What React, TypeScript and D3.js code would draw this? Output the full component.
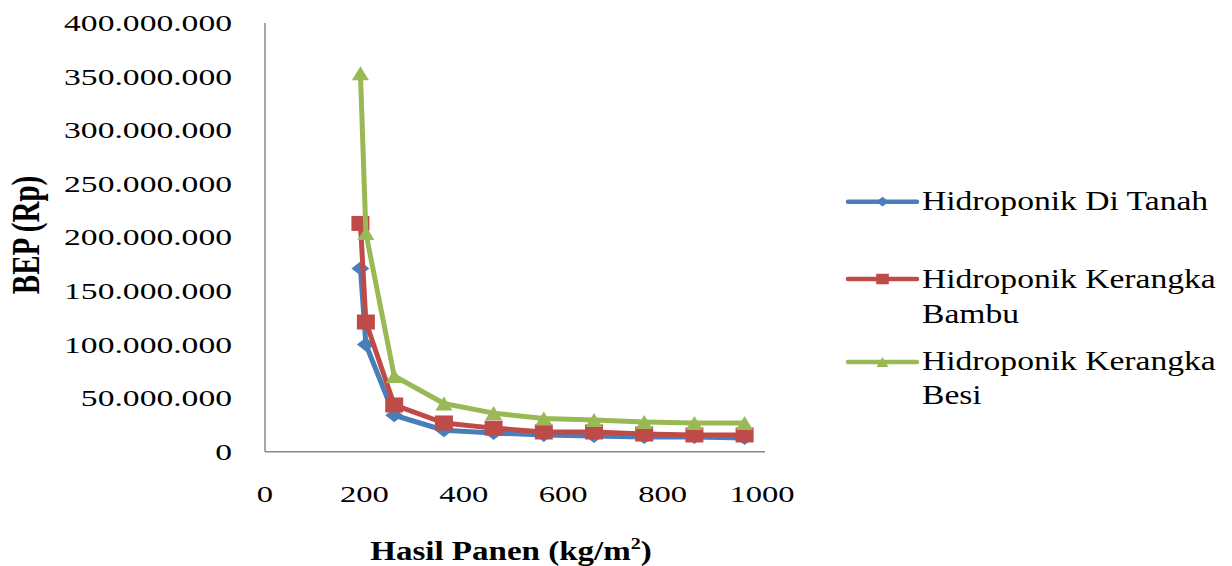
import React from "react";
import * as d3 from "d3";

const xValues = [192, 203, 260, 360, 460, 561, 662, 763, 864, 965];
const seriesNames = ["Hidroponik Di Tanah", "Hidroponik Kerangka Bambu", "Hidroponik Kerangka Besi"];
const tanah = [171e6, 100e6, 34e6, 20e6, 17.4e6, 15.6e6, 14.6e6, 13.7e6, 13.7e6, 12.8e6];
const bambu = [213e6, 121e6, 43.6e6, 26.8e6, 22e6, 18.4e6, 18.4e6, 16.5e6, 15.6e6, 15.6e6];
const besi = [353e6, 204e6, 70.6e6, 45e6, 36e6, 31e6, 29.6e6, 27.7e6, 26.8e6, 26.8e6];
const xTicks = [0, 200, 400, 600, 800, 1000];
const yTicks = [0, 50e6, 100e6, 150e6, 200e6, 250e6, 300e6, 350e6, 400e6];
const colors = ["#4A7EBB", "#BE4B48", "#98B954"];
const markers = ["diamond", "square", "triangle"];

const x = d3.scaleLinear().domain([0, 1000]).range([265, 762]);
const y = d3.scaleLinear().domain([0, 400e6]).range([451.7, 23]);

const fmt = (v: number) => d3.format(",")(v).replace(/,/g, ".");

function Marker({ kind, cx, cy, color, s = 1 }: any) {
  if (kind === "diamond") {
    const w = 9 * s, h = 7 * s;
    return <path d={`M${cx - w},${cy}L${cx},${cy - h}L${cx + w},${cy}L${cx},${cy + h}Z`} fill={color} />;
  }
  if (kind === "square") {
    const w = 9 * s, h = 7.5 * s;
    return <rect x={cx - w} y={cy - h} width={2 * w} height={2 * h} fill={color} />;
  }
  const w = 8.5 * s, h = 7 * s;
  return <path d={`M${cx},${cy - h}L${cx + w},${cy + h}L${cx - w},${cy + h}Z`} fill={color} />;
}

function SText({ x: tx, y: ty, sx = 1.4, size = 24, anchor = "start", weight = "normal", children }: any) {
  return (
    <text
      transform={`translate(${tx},${ty}) scale(${sx},1)`}
      fontFamily="'Liberation Serif', 'Times New Roman', serif"
      fontSize={size}
      fontWeight={weight}
      textAnchor={anchor}
      fill="#000"
    >
      {children}
    </text>
  );
}

export default function App() {
  const data = [tanah, bambu, besi];
  const line = d3
    .line<number>()
    .x((_, i) => x(xValues[i]))
    .y((d) => y(d));
  const legendY = [201.7, 279, 362];
  const legendLines = [["Hidroponik Di Tanah"], ["Hidroponik Kerangka", "Bambu"], ["Hidroponik Kerangka", "Besi"]];
  const legendBase = [[210], [288, 323], [370, 404]];
  return (
    <svg width={1232} height={566} style={{ position: "absolute", left: 0, top: 0, background: "#fff" }}>
      <rect width={1232} height={566} fill="#fff" />
      <line x1={x(0)} x2={x(0)} y1={y(400e6)} y2={y(0)} stroke="#888" strokeWidth={1.5} />
      <line x1={x(0)} x2={x(1000) + 3} y1={y(0)} y2={y(0)} stroke="#888" strokeWidth={1.5} />
      {yTicks.map((t) => (
        <SText key={t} x={232} y={y(t) + 8} anchor="end" sx={1.4} size={24}>
          {fmt(t)}
        </SText>
      ))}
      {xTicks.map((t) => (
        <SText key={t} x={x(t)} y={502} anchor="middle" sx={1.36} size={24}>
          {t}
        </SText>
      ))}
      <SText x={511} y={560} anchor="middle" sx={1.18} size={28} weight="bold">
        Hasil Panen (kg/m
        <tspan fontSize={17} dy={-11}>2</tspan>
        <tspan dy={11}>)</tspan>
      </SText>
      <text
        transform="translate(39,235) scale(1.35,1) rotate(-90)"
        fontFamily="'Liberation Serif', 'Times New Roman', serif"
        fontSize={29}
        fontWeight="bold"
        textAnchor="middle"
      >
        BEP (Rp)
      </text>
      {data.map((d, si) => (
        <g key={si}>
          <path d={line(d) || ""} fill="none" stroke={colors[si]} strokeWidth={5} strokeLinejoin="round" />
          {d.map((v, i) => (
            <Marker key={i} kind={markers[si]} cx={x(xValues[i])} cy={y(v)} color={colors[si]} />
          ))}
        </g>
      ))}
      {seriesNames.map((n, si) => (
        <g key={n}>
          <line x1={848} x2={917} y1={legendY[si]} y2={legendY[si]} stroke={colors[si]} strokeWidth={4.5} strokeLinecap="round" />
          <Marker kind={markers[si]} cx={882.5} cy={legendY[si]} color={colors[si]} s={0.7} />
          {legendLines[si].map((t, li) => (
            <SText key={li} x={922} y={legendBase[si][li]} sx={1.2} size={28}>
              {t}
            </SText>
          ))}
        </g>
      ))}
    </svg>
  );
}
